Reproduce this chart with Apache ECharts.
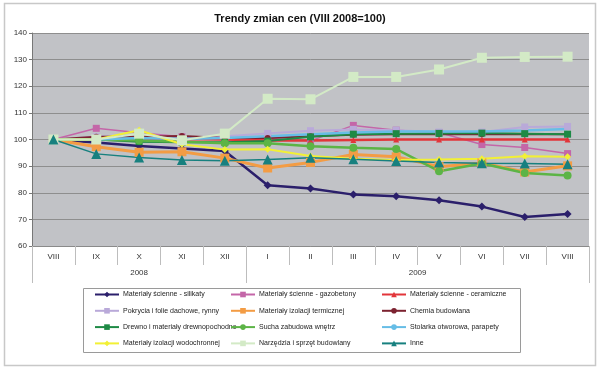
<!DOCTYPE html>
<html><head><meta charset="utf-8">
<script src="https://cdn.jsdelivr.net/npm/echarts@6/dist/echarts.min.js"></script>
<style>html,body{margin:0;padding:0;background:#fff}#c{width:600px;height:373px}</style>
</head><body><div id="c"></div>
<script>
const months = ['VIII','IX','X','XI','XII','I','II','III','IV','V','VI','VII','VIII'];
const yearLabels = ['2008','2009'];
const yearCenters = [2.5, 9];
const yearBounds = [0, 5, 13];

const silikaty     = [100, 98.9, 97.6, 96.6, 95.7, 82.8, 81.6, 79.3, 78.7, 77.2, 74.8, 70.9, 72.0];
const gazobetony   = [100, 104.2, 102.5, 101.0, 100.0, 100.5, 99.5, 105.3, 103.5, 102.6, 98.1, 97.0, 94.7];
const ceramiczne   = [100, 100.0, 100.0, 100.2, 100.0, 99.6, 99.6, 99.8, 100.0, 100.0, 100.0, 100.0, 100.0];
const pokrycia     = [100, 101.0, 101.5, 100.5, 101.2, 102.3, 103.3, 103.8, 103.5, 102.8, 102.8, 104.7, 104.9];
const termiczne    = [100, 97.3, 95.2, 95.4, 93.0, 89.3, 91.4, 94.4, 93.5, 89.8, 91.2, 87.8, 90.1];
const chemia       = [100, 101.0, 101.0, 101.3, 100.6, 100.6, 101.2, 101.8, 102.0, 102.0, 102.0, 102.0, 102.0];
const drewno       = [100, 100.0, 99.2, 99.0, 99.0, 99.4, 101.0, 102.0, 102.2, 102.3, 102.4, 102.2, 102.0];
const sucha        = [100, 100.0, 99.6, 99.2, 98.6, 98.6, 97.5, 96.9, 96.4, 88.1, 91.0, 87.4, 86.5];
const stolarka     = [100, 100.0, 100.6, 100.2, 100.6, 101.2, 102.0, 102.6, 103.0, 103.0, 103.0, 103.4, 103.9];
const wodochronne  = [100, 100.0, 103.5, 98.2, 96.2, 96.3, 93.8, 92.8, 92.3, 92.5, 92.8, 93.7, 93.5];
const narzedzia    = [100, 100.0, 102.2, 99.7, 102.2, 115.3, 115.1, 123.5, 123.5, 126.3, 130.7, 131.0, 131.1];
const inne         = [100, 94.6, 93.2, 92.3, 92.0, 92.5, 93.1, 92.6, 91.9, 91.4, 91.1, 91.0, 90.7];

const yTicks = {min: 60, max: 140, interval: 10};

const defs = [
  ['Materiały ścienne - silikaty', silikaty, '#2b1f6b', 'diamond', 8, 2.5],
  ['Materiały ścienne - gazobetony', gazobetony, '#c466a8', 'rect', 7, 1.5],
  ['Materiały ścienne - ceramiczne', ceramiczne, '#e2353a', 'triangle', 6, 2.5],
  ['Pokrycia i folie dachowe, rynny', pokrycia, '#b9a9d9', 'rect', 7, 2],
  ['Materiały izolacji termicznej', termiczne, '#f39c44', 'rect', 9, 3],
  ['Chemia budowlana', chemia, '#7c2230', 'circle', 6, 2],
  ['Drewno i materiały drewnopochodne', drewno, '#1e8a45', 'rect', 7, 2],
  ['Sucha zabudowa wnętrz', sucha, '#5cb446', 'circle', 8, 2.5],
  ['Stolarka otworowa, parapety', stolarka, '#66bde6', 'none', 1, 2.5],
  ['Materiały izolacji wodochronnej', wodochronne, '#f2f035', 'diamond', 7, 2],
  ['Narzędzia i sprzęt budowlany', narzedzia, '#d3eac6', 'rect', 10, 2],
  ['Inne', inne, '#17807f', 'triangle', 10, 1.5]
];

const series = defs.map(d => ({
  name: d[0], type: 'line', data: d[1], xAxisIndex: 0, yAxisIndex: 0,
  symbol: d[3], symbolSize: d[4], showSymbol: d[3] !== 'none',
  lineStyle: {color: d[2], width: d[5]}, itemStyle: {color: d[2]},
  emphasis: {disabled: true}, animation: false
}));

const font = 'Liberation Sans, Arial, sans-serif';
const col = idx => idx.map(i => defs[i][0]);
const legendBase = {
  orient: 'vertical', top: 291, itemWidth: 24, itemHeight: 7, itemGap: 9.3, padding: 0,
  textStyle: {fontSize: 7, color: '#222', fontFamily: font, padding: [0, 0, 0, -1]}, selectedMode: false
};

const chart = echarts.init(document.getElementById('c'), null, {renderer: 'canvas'});
chart.setOption({
  animation: false,
  backgroundColor: '#fff',
  title: {text: 'Trendy zmian cen (VIII 2008=100)', left: 'center', top: 8,
    textStyle: {fontSize: 11, fontWeight: 'bold', color: '#111', fontFamily: font}},
  grid: {left: 32, right: 11, top: 33, bottom: 127, show: true, backgroundColor: '#c1c2c6', borderWidth: 0},
  legend: [
    Object.assign({}, legendBase, {left: 94, data: col([0,3,6,9])}),
    Object.assign({}, legendBase, {left: 230, data: col([1,4,7,10])}),
    Object.assign({}, legendBase, {left: 381, data: col([2,5,8,11])})
  ],
  xAxis: [
    {type: 'category', data: months, boundaryGap: true,
     axisLine: {lineStyle: {color: '#8a8a8a'}},
     axisTick: {show: true, interval: 0, length: 19, lineStyle: {color: '#bdbdbd'}},
     axisLabel: {interval: 0, fontSize: 8, color: '#333', margin: 7, fontFamily: font},
     splitLine: {show: false}},
    {type: 'value', min: 0, max: 13, position: 'bottom',
     axisLine: {show: false},
     axisTick: {show: true, customValues: yearBounds, length: 37, lineStyle: {color: '#bdbdbd'}},
     axisLabel: {customValues: yearCenters, fontSize: 8, color: '#333', margin: 23, fontFamily: font,
       formatter: v => yearLabels[yearCenters.indexOf(v)]},
     splitLine: {show: false}}
  ],
  yAxis: {type: 'value', min: yTicks.min, max: yTicks.max, interval: yTicks.interval,
    axisLine: {show: true, lineStyle: {color: '#777'}},
    axisTick: {show: true, length: 3, lineStyle: {color: '#777'}},
    axisLabel: {fontSize: 8, color: '#333', margin: 5, fontFamily: font},
    splitLine: {lineStyle: {color: '#8e8e8e', width: 1}}},
  graphic: [
    {type: 'rect', shape: {x: 4.5, y: 3.5, width: 591, height: 362}, silent: true,
     style: {fill: null, stroke: '#c8c8c8', lineWidth: 1.5}, z: -1},
    {type: 'rect', shape: {x: 83.5, y: 288.5, width: 437, height: 64}, silent: true,
     style: {fill: null, stroke: '#9a9a9a', lineWidth: 1}}
  ],
  series: series
});
</script></body></html>
